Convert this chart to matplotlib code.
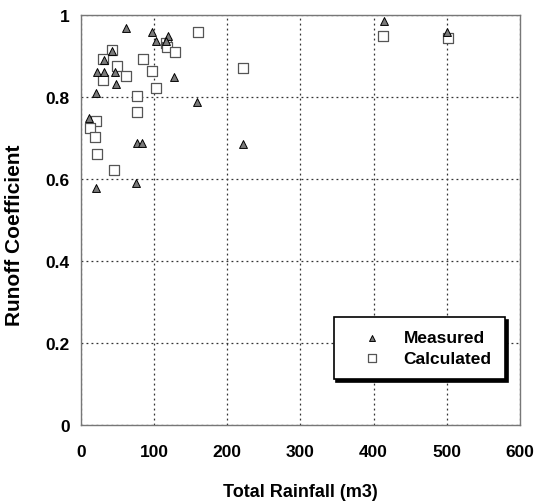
import matplotlib
matplotlib.use("Agg")
import matplotlib.pyplot as plt

plt.rcParams['font.family'] = ['Liberation Sans', 'DejaVu Sans']

# Measured runoff coefficients (triangles)
measured_rain = [61, 97, 102, 119, 116, 43, 31, 22, 31, 46, 48, 127, 20, 159,
                 11, 77, 84, 221, 21, 75, 414, 500]
measured_coef = [0.968, 0.958, 0.937, 0.948, 0.937, 0.912, 0.891, 0.862, 0.862,
                 0.862, 0.831, 0.850, 0.811, 0.789, 0.750, 0.688, 0.688, 0.686,
                 0.578, 0.590, 0.985, 0.958]

# Calculated runoff coefficients (squares)
calc_rain = [160, 42, 30, 85, 116, 118, 128, 49, 61, 97, 30, 102, 77, 76,
             21, 12, 19, 22, 45, 221, 413, 501]
calc_coef = [0.959, 0.914, 0.894, 0.892, 0.932, 0.923, 0.911, 0.875, 0.852,
             0.863, 0.841, 0.823, 0.802, 0.763, 0.741, 0.724, 0.702, 0.662,
             0.622, 0.871, 0.948, 0.943]

x_ticks = [0, 100, 200, 300, 400, 500, 600]
y_ticks = [0, 0.2, 0.4, 0.6, 0.8, 1.0]
y_ticklabels = ['0', '0.2', '0.4', '0.6', '0.8', '1']

fig = plt.figure(figsize=(5.34, 5.02), dpi=100)
ax = fig.add_axes([0.1517, 0.1514, 0.822, 0.8166])

ax.scatter(calc_rain, calc_coef, marker='s', s=46, facecolors='white',
           edgecolors='#555555', linewidths=0.9, label='Calculated', zorder=3)
ax.scatter(measured_rain, measured_coef, marker='^', s=32, facecolors='#7a7a7a',
           edgecolors='black', linewidths=0.7, label='Measured', zorder=4)

ax.set_xlim(0, 600)
ax.set_ylim(0, 1)
ax.set_xticks(x_ticks)
ax.set_yticks(y_ticks)
ax.set_yticklabels(y_ticklabels)
ax.grid(True, linestyle=(0, (1.5, 2.5)), color='#333333', linewidth=0.9)
ax.set_axisbelow(True)
ax.tick_params(axis='both', length=0, labelsize=12.5)
ax.tick_params(axis='x', pad=14)
ax.tick_params(axis='y', pad=8)
for lab in ax.get_xticklabels() + ax.get_yticklabels():
    lab.set_fontweight('bold')
for sp in ax.spines.values():
    sp.set_color('#777777')
    sp.set_linewidth(1.0)

ax.set_xlabel('Total Rainfall (m3)', fontsize=13, fontweight='bold', labelpad=17)
ax.set_ylabel('Runoff Coefficient', fontsize=15, fontweight='bold')
ax.yaxis.set_label_coords(-0.13, 0.466)

handles, labels = ax.get_legend_handles_labels()
order = [1, 0]
leg = ax.legend([handles[i] for i in order], [labels[i] for i in order],
                loc='lower right', bbox_to_anchor=(0.966, 0.112),
                borderaxespad=0, fancybox=False, shadow={'color': 'black', 'alpha': 1.0},
                edgecolor='black', framealpha=1, prop={'weight': 'bold', 'size': 12.5},
                handletextpad=0.43, borderpad=0.77, labelspacing=0.3,
                handlelength=2.83, markerscale=0.75)
leg.get_frame().set_linewidth(1.2)

fig.savefig('out.png', dpi=100)
